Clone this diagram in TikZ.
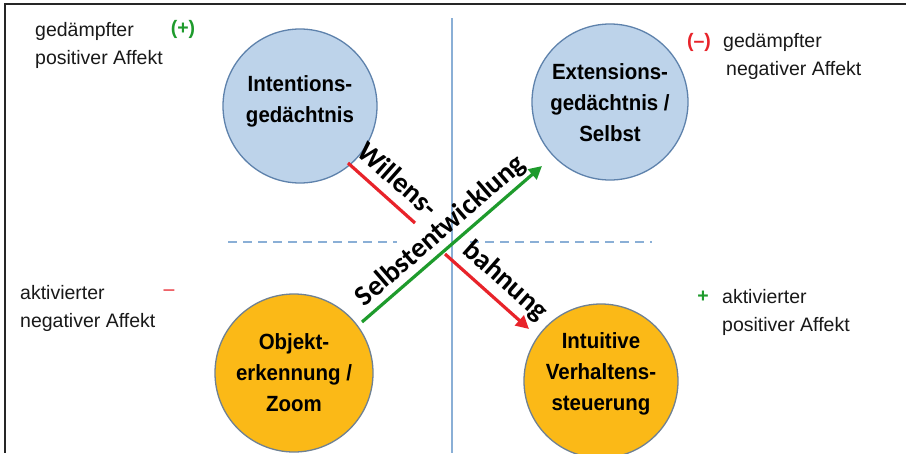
\documentclass[tikz,border=0pt]{standalone}
\usepackage{fontspec}
\setmainfont{Liberation Sans}
\newfontfamily\circfont{Liberation Sans}[FakeStretch=0.93]
\newfontfamily\arrowfont{Carlito}
\usetikzlibrary{arrows.meta}
\definecolor{cblue}{HTML}{BDD3EA}
\definecolor{cblueb}{HTML}{5E82AC}
\definecolor{corange}{HTML}{FBB917}
\definecolor{corangeb}{HTML}{6F8193}
\definecolor{axisblue}{HTML}{8AAFD6}
\definecolor{myred}{HTML}{E8232A}
\definecolor{mygreen}{HTML}{1E9B2C}
\begin{document}
\begin{tikzpicture}[x=1pt,y=-1pt,
  bluecirc/.style={circle,draw=cblueb,line width=1.3pt,fill=cblue,minimum size=#1,inner sep=0pt},
  orangecirc/.style={circle,draw=corangeb,line width=1.3pt,fill=corange,minimum size=#1,inner sep=0pt},
  circtext/.style={font=\circfont\bfseries\fontsize{22}{31}\selectfont,align=center,text=black},
  afftext/.style={font=\fontsize{19.5}{28}\selectfont,align=left,anchor=west,text=black!90,inner sep=0pt},
  signtext/.style={font=\bfseries\fontsize{19.5}{28}\selectfont,inner sep=0pt},
  arrtext/.style={font=\arrowfont\bfseries\fontsize{28.5}{30}\selectfont,inner sep=0pt},
  axis/.style={draw=axisblue,line width=1.8pt},
  redline/.style={draw=myred,line width=3.2pt},
  greenline/.style={draw=mygreen,line width=3.2pt}
]
\useasboundingbox (0,0) rectangle (906,453);
\fill[white] (0,0) rectangle (906,453);
% frame
\coordinate (ftr) at (906,4);
\coordinate (ftl) at (5,4);
\coordinate (fbl) at (5,453);
\draw[black!85,line width=1.6pt] (ftr) -- (ftl) -- (fbl);
% axes
\coordinate (vtop) at (452,18);
\coordinate (vbot) at (452,453);
\draw[axis] (vtop) -- (vbot);
\coordinate (hl1) at (228,242);
\coordinate (hl2) at (397,242);
\coordinate (hr1) at (470,242);
\coordinate (hr2) at (652,242);
\draw[axis,dash pattern=on 9pt off 6pt] (hl1) -- (hl2);
\draw[axis,dash pattern=on 9pt off 6pt] (hr1) -- (hr2);
% circles
\node[bluecirc=154pt] (int) at (300,106) {};
\node[circtext] at (300,101) {Intentions-\\gedächtnis};
\node[bluecirc=156pt] (ext) at (610,102) {};
\node[circtext] at (610,103) {Extensions-\\gedächtnis /\\Selbst};
\node[orangecirc=158pt] (obj) at (294,373) {};
\node[circtext] at (294,373) {Objekt-\\erkennung /\\Zoom};
\node[orangecirc=154pt] (intu) at (601,381) {};
\node[circtext] at (601,374) {Intuitive\\Verhaltens-\\steuerung};
% connectors
\coordinate (r1a) at (348,163);
\coordinate (r1b) at (415,223);
\coordinate (r2a) at (445,254);
\coordinate (r2b) at (529,329);
\draw[redline] (r1a) -- (r1b);
\draw[redline,-{Triangle[length=13pt,width=13pt]}] (r2a) -- (r2b);
\coordinate (g1) at (362,322);
\coordinate (g2) at (542,166);
\draw[greenline,-{Triangle[length=13pt,width=13pt]}] (g1) -- (g2);
% arrow labels
\node[arrtext,rotate=-41.5] (wl) at (398,179) {Willens-};
\node[arrtext,rotate=-41.5] (bh) at (505,281) {bahnung};
\node[arrtext,rotate=41] (se) at (441,231) {Selbstentwicklung};
% affect texts
\node[afftext] (tl) at (35,45) {gedämpfter\\positiver Affekt};
\node[signtext,text=mygreen] (tls) at (183,29) {(+)};
\node[signtext,text=myred] (trs) at (699,42) {(\textendash)};
\node[afftext] (tr) at (723,56) {gedämpfter\\\hspace*{3pt}negativer Affekt};
\node[afftext] (ml) at (20,308) {aktivierter\\negativer Affekt};
\node[signtext,text=myred,font=\fontsize{19.5}{28}\selectfont] (mls) at (169,293) {\textendash};
\node[signtext,text=mygreen] (mrs) at (703,297) {+};
\node[afftext] (mr) at (722,312) {aktivierter\\positiver Affekt};
\end{tikzpicture}
\end{document}
